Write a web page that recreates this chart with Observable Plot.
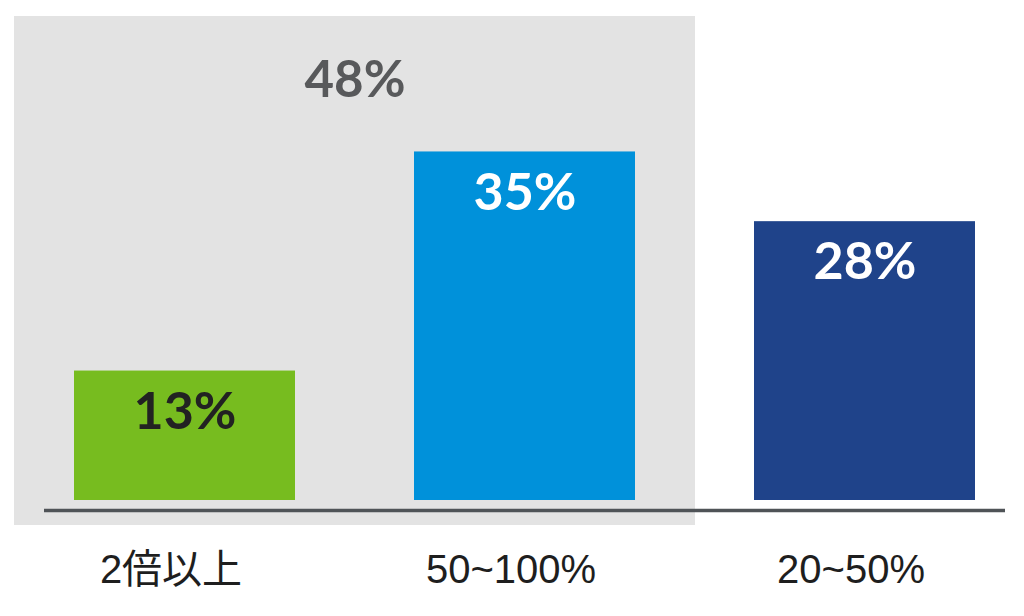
<!DOCTYPE html>
<html>
<head>
<meta charset="utf-8">
<script src="https://cdn.jsdelivr.net/npm/d3@7"></script>
<script src="https://cdn.jsdelivr.net/npm/@observablehq/plot@0.6"></script>
<style>
  html, body { margin: 0; padding: 0; background: #ffffff; }
  #chart { width: 1024px; height: 616px; }
</style>
</head>
<body>
<div id="chart"></div>
<script>
const categories = ["2倍以上", "50~100%", "20~50%"];
const values = [13, 35, 28];
const barColors = ["#77bc1f", "#0091da", "#1f438a"];
const valueLabelColors = ["#222222", "#ffffff", "#ffffff"];
const highlighted = ["2倍以上", "50~100%"];

const data = categories.map((c, i) => ({category: c, value: values[i], labelColor: valueLabelColors[i]}));
const highlightRows = data.filter(d => highlighted.includes(d.category));
const total = d3.sum(highlightRows, d => d.value);

const numFont = "Lato, 'Open Sans', sans-serif";

const chart = Plot.plot({
  width: 1024,
  height: 616,
  marginTop: 22,
  marginBottom: 116,
  marginLeft: 73,
  marginRight: 48,
  style: {background: "#ffffff", fontFamily: "'Liberation Sans', 'Noto Sans CJK JP', sans-serif"},
  x: {domain: categories, paddingInner: 0.349, paddingOuter: 0, axis: null, label: null},
  y: {domain: [0, 48], axis: null},
  color: {domain: categories, range: barColors},
  marks: [
    Plot.barY(highlightRows, {x: "category", y1: 0, y2: total, fill: "#e3e3e3",
      insetLeft: -60, insetRight: -60, insetTop: -6, insetBottom: -25}),
    Plot.barY(data, {x: "category", y: "value", fill: "category"}),
    Plot.ruleY([0], {stroke: "#4f5357", strokeWidth: 3.5, dy: 10, insetLeft: -29, insetRight: -29}),
    Plot.text(data, {x: "category", y: "value", text: d => d.value + "%", fill: "labelColor",
      dy: 41, lineAnchor: "middle", fontSize: 52, fontWeight: "bold", fontFamily: numFont}),
    Plot.text([{category: highlighted[0], label: total + "%"}], {x: "category", y: () => total, text: "label",
      dx: 170, dy: 58, lineAnchor: "middle", fontSize: 51, fontWeight: "bold", fill: "#58595b", fontFamily: numFont}),
    Plot.axisX({tickSize: 0, tickPadding: 54, fontSize: 40, fill: "#1e1e1e", dx: -14, label: null,
      fontFamily: "'Liberation Sans', 'Noto Sans CJK JP', sans-serif"})
  ]
});
document.getElementById("chart").appendChild(chart);
</script>
</body>
</html>
